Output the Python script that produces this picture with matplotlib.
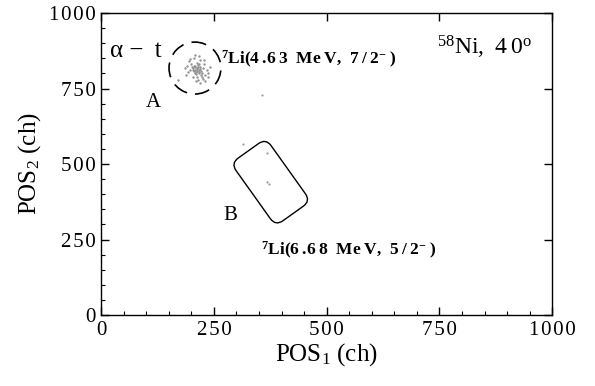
import matplotlib
matplotlib.use("Agg")
import matplotlib.pyplot as plt
from matplotlib.patches import Ellipse, FancyBboxPatch
from matplotlib.transforms import Affine2D, ScaledTranslation
from matplotlib.ticker import MultipleLocator, FuncFormatter

# ---- data ----
cluster_x = [212, 208, 216, 205, 219, 210, 214, 222, 203, 217,
             209, 213, 206, 220, 211, 200, 224, 215, 207, 218,
             212, 204, 221, 209, 216, 226, 198, 213, 223, 201,
             195, 230, 193, 228, 214, 206, 234, 190, 219, 211,
             185, 238, 203, 225, 197, 216, 231, 208, 236, 220,
             171, 242, 189, 227, 212]
cluster_y = [815, 820, 812, 808, 822, 805, 828, 808, 818, 800,
             812, 818, 826, 815, 798, 830, 802, 822, 800, 830,
             808, 813, 795, 825, 805, 818, 810, 835, 790, 822,
             840, 795, 805, 830, 780, 850, 810, 825, 845, 775,
             818, 788, 790, 782, 848, 858, 775, 862, 800, 770,
             778, 820, 795, 845, 790]
stray_x = [357, 315, 368, 368, 373]
stray_y = [728, 566, 536, 440, 434]

xticks = [0, 250, 500, 750, 1000]
yticks = [0, 250, 500, 750, 1000]

gateA_center = (208, 818)
gateB_center = (376, 440)

plt.rcParams['font.family'] = ['Liberation Serif', 'DejaVu Serif']
plt.rcParams['mathtext.fontset'] = 'custom'
plt.rcParams['mathtext.rm'] = 'Liberation Serif'
plt.rcParams['mathtext.it'] = 'Liberation Serif:italic'
plt.rcParams['mathtext.bf'] = 'Liberation Serif:bold'

fig = plt.figure(figsize=(5.95, 3.86), dpi=100)
ax = fig.add_axes([0.170, 0.184, 0.758, 0.782])

ax.scatter(cluster_x, cluster_y, s=3, c='#939393', linewidths=0)
ax.scatter(stray_x, stray_y, s=2.5, c='#9a9a9a', linewidths=0)

ax.set_xlim(0, 1000)
ax.set_ylim(0, 1000)
ax.set_xticks(xticks)
ax.set_yticks(yticks)
ax.xaxis.set_minor_locator(MultipleLocator(50))
ax.yaxis.set_minor_locator(MultipleLocator(50))

spaced = FuncFormatter(lambda v, p: '\u200a'.join(str(int(v))))
ax.xaxis.set_major_formatter(spaced)
ax.yaxis.set_major_formatter(spaced)

ax.tick_params(which='major', direction='in', length=6, width=1.0, labelsize=15,
               top=True, right=True)
ax.tick_params(axis='x', which='major', pad=4)
ax.tick_params(axis='y', which='major', pad=4)
ax.tick_params(which='minor', direction='in', length=3, width=0.8,
               top=False, right=False)
for s in ax.spines.values():
    s.set_linewidth(1.0)

ax.set_xlabel('POS$_1$ (ch)', fontsize=18, labelpad=1)
ax.set_ylabel('POS$_2$ (ch)', fontsize=18, labelpad=4)

# gate A: dashed circle (pixel-round)
ell = Ellipse(gateA_center, width=115, height=172, fill=False, edgecolor='black',
              linewidth=1.2, linestyle=(0, (9, 5)))
ax.add_patch(ell)

# gate B: rotated rounded rectangle, sized in pixels
tr = Affine2D().rotate_deg(-54.5) + ScaledTranslation(gateB_center[0], gateB_center[1], ax.transData)
box = FancyBboxPatch((-38.5, -21.5), 77, 43, boxstyle='round,pad=0,rounding_size=9',
                     fill=False, edgecolor='black', linewidth=1.0, transform=tr)
ax.add_patch(box)

hs = '\u2009'
ax.text(20, 875, '\u03b1 \u2212 ' + hs + 't', fontsize=18, ha='left', va='center')
ax.text(100, 705, 'A', fontsize=15, ha='left', va='center')
ax.text(272, 330, 'B', fontsize=15, ha='left', va='center')
lblA = r'$^{\mathbf{7}}$' + 'Li(4' + hs + '.6' + hs + '3  Me' + hs + 'V,  7' + hs + '/' + hs + '2' + r'$^{\mathbf{-}}$' + hs + ')'
lblB = r'$^{\mathbf{7}}$' + 'Li(6' + hs + '.6' + hs + '8  Me' + hs + 'V,  5' + hs + '/' + hs + '2' + r'$^{\mathbf{-}}$' + hs + ')'
ax.text(265, 845, lblA, fontsize=12.5, fontweight='bold', ha='left', va='center')
ax.text(355, 215, lblB, fontsize=12.5, fontweight='bold', ha='left', va='center')
ax.text(745, 885, r'$^{58}$Ni, ' + hs + '4' + hs + '0$^{\\rm o}$', fontsize=17,
        ha='left', va='center')

fig.savefig('out.png', dpi=100)
